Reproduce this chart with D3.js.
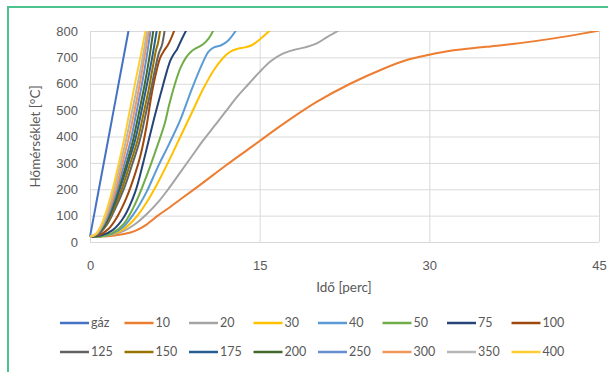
<!DOCTYPE html>
<html>
<head>
<meta charset="utf-8">
<script src="https://cdn.jsdelivr.net/npm/d3@7/dist/d3.min.js"></script>
<style>
  body { margin: 0; background: #fff; }
  svg { display: block; font-family: Lato, 'Liberation Sans', sans-serif; }
  .grid line { stroke: #d9d9d9; stroke-width: 1; }
  .grid path { display: none; }
  .axis path, .axis line { display: none; }
  .axis text { fill: #595959; font-size: 13px; }
  .title { fill: #595959; font-size: 13.5px; }
  .legend text { fill: #595959; font-size: 12.5px; }
</style>
</head>
<body>
<div id="chart"></div>
<script>
// series labels, in legend order
const labels = ['gáz', '10', '20', '30', '40', '50', '75', '100',
  '125', '150', '175', '200', '250', '300', '350', '400'];

// excel-ish palette
const colors = ['#4472c4', '#ed7d31', '#a5a5a5', '#ffc000', '#5b9bd5', '#70ad47', '#264478', '#9e480e',
  '#636363', '#997300', '#255e91', '#43682b', '#698ed0', '#f1975a', '#b7b7b7', '#ffcd33'];

const xTicks = [0, 15, 30, 45];
const yTicks = [0, 100, 200, 300, 400, 500, 600, 700, 800];

// [time (perc), temperature (°C)]
const sGaz = [[0, 20], [3.4, 800]];
const s10 = [[0, 20], [1, 21], [2, 24], [3, 30], [4, 42], [5, 66], [5.5, 83], [6, 100], [7, 130], [8, 162],
  [10, 225], [12, 290], [14, 352], [15, 383], [17, 445], [20, 530], [23, 600], [26, 658], [28, 690],
  [30, 710], [32, 726], [35, 740], [38, 754], [41, 772], [43.5, 790], [45, 802]];
const s20 = [[0, 20], [1, 22], [2, 28], [3, 42], [4, 68], [5, 105], [6, 150], [7, 205], [8, 265], [9, 325],
  [10, 385], [11, 440], [12, 495], [13, 550], [14, 598], [15, 645], [16, 686], [17, 713], [18, 728],
  [19, 738], [20, 752], [21, 778], [22, 802]];
const s30 = [[0, 20], [1, 22], [2, 30], [3, 50], [4, 90], [5, 150], [6, 225], [7, 310], [8, 400], [9, 490],
  [10, 580], [11, 655], [12, 708], [12.5, 724], [13, 732], [13.7, 738], [14.3, 746], [15, 768], [15.9, 802]];
const s40 = [[0, 20], [1, 22], [2, 32], [3, 60], [4, 115], [5, 190], [6, 285], [7, 372], [8, 465], [9, 580],
  [10, 683], [10.5, 723], [11, 739], [11.6, 746], [12.2, 763], [12.9, 802]];
const s50 = [[0, 20], [1, 22], [2, 35], [3, 70], [4, 145], [5, 250], [6, 370], [6.6, 448], [7, 520], [7.5, 598],
  [8, 660], [8.5, 700], [9, 724], [9.4, 735], [10, 750], [10.5, 772], [10.9, 802]];
const s75 = [[0, 20], [1, 25], [2, 45], [3, 95], [4, 190], [4.7, 300], [5.3, 405], [5.8, 490], [6.3, 570],
  [6.8, 648], [7.1, 688], [7.4, 712], [7.7, 731], [8.1, 768], [8.5, 802]];
const s100 = [[0, 20], [0.8, 26], [1.6, 48], [2.4, 95], [3.2, 165], [4, 260], [4.5, 335], [5, 440],
  [5.45, 560], [5.9, 652], [6.2, 698], [6.5, 722], [6.9, 748], [7.2, 775], [7.45, 802]];
const s125 = [[0, 20], [0.7, 29], [1.5, 66], [2.2, 124], [3, 202], [3.7, 290], [4.4, 385], [4.9, 480],
  [5.4, 580], [5.8, 665], [6.1, 718], [6.35, 745], [6.6, 802]];
const s150 = [[0, 20], [0.7, 30], [1.4, 65], [2.1, 125], [2.8, 200], [3.5, 290], [4.2, 385], [4.7, 480],
  [5.2, 580], [5.6, 675], [5.85, 730], [6, 752], [6.2, 802]];
const s175 = [[0, 20], [0.7, 31], [1.3, 64], [2, 126], [2.6, 197], [3.3, 290], [4, 388], [4.5, 485],
  [5, 590], [5.5, 700], [5.9, 802]];
const s200 = [[0, 20], [0.6, 29], [1.3, 66], [1.9, 125], [2.5, 198], [3.2, 293], [3.8, 385], [4.3, 485],
  [4.8, 590], [5.25, 700], [5.6, 802]];
const s250 = [[0, 20], [0.6, 30], [1.2, 65], [1.8, 125], [2.4, 200], [3, 290], [3.6, 385], [4.1, 490],
  [4.6, 600], [5, 700], [5.35, 802]];
const s300 = [[0, 20], [0.6, 31], [1.1, 64], [1.7, 125], [2.3, 203], [2.8, 287], [3.4, 390], [3.9, 490],
  [4.4, 600], [4.8, 700], [5.2, 802]];
const s350 = [[0, 20], [0.5, 29], [1.1, 67], [1.6, 126], [2.1, 197], [2.6, 281], [3.2, 389], [3.6, 470],
  [4.1, 575], [4.6, 685], [5.05, 802]];
const s400 = [[0, 20], [0.5, 30], [1, 65], [1.5, 125], [2, 200], [2.5, 290], [3, 385], [3.5, 495],
  [4, 605], [4.5, 710], [4.9, 802]];

const seriesData = [sGaz, s10, s20, s30, s40, s50, s75, s100,
  s125, s150, s175, s200, s250, s300, s350, s400];

const W = 608, H = 372;
const margin = { top: 31, right: 9, bottom: 130, left: 90 };
const width = W - margin.left - margin.right;
const height = H - margin.top - margin.bottom;

const svg = d3.select('#chart').append('svg')
  .attr('width', W)
  .attr('height', H);

// green frame of the page
svg.append('path')
  .attr('d', 'M8,372 V7 H608')
  .attr('fill', 'none')
  .attr('stroke', '#4cc28e')
  .attr('stroke-width', 2);

const x = d3.scaleLinear().domain([0, 45]).range([0, width]);
const y = d3.scaleLinear().domain([0, 800]).range([height, 0]);

const g = svg.append('g')
  .attr('transform', 'translate(' + margin.left + ',' + margin.top + ')');

g.append('defs').append('clipPath')
  .attr('id', 'clip')
  .append('rect')
  .attr('x', -2)
  .attr('y', 0)
  .attr('width', width + 4)
  .attr('height', height + 2);

// gridlines
g.append('g').attr('class', 'grid')
  .call(d3.axisLeft(y).tickValues(yTicks).tickSize(-width).tickFormat(''));
g.append('g').attr('class', 'grid')
  .attr('transform', 'translate(0,' + height + ')')
  .call(d3.axisBottom(x).tickValues(xTicks).tickSize(-height).tickFormat(''));

// axis labels
g.append('g').attr('class', 'axis')
  .call(d3.axisLeft(y).tickValues(yTicks).tickSize(0).tickPadding(12));
g.append('g').attr('class', 'axis')
  .attr('transform', 'translate(0,' + height + ')')
  .call(d3.axisBottom(x).tickValues(xTicks).tickSize(0).tickPadding(19));

const line = d3.line()
  .x(d => x(d[0]))
  .y(d => y(d[1]))
  .curve(d3.curveCatmullRom.alpha(0.5));

g.append('g')
  .attr('clip-path', 'url(#clip)')
  .selectAll('path')
  .data(seriesData)
  .join('path')
  .attr('fill', 'none')
  .attr('stroke', (d, i) => colors[i])
  .attr('stroke-width', 2)
  .attr('stroke-linejoin', 'round')
  .attr('d', line);

// titles
svg.append('text').attr('class', 'title')
  .attr('x', margin.left + width / 2 - 0.5)
  .attr('y', 292)
  .attr('text-anchor', 'middle')
  .text('Idő [perc]');
svg.append('text').attr('class', 'title')
  .attr('transform', 'translate(40,' + (margin.top + height / 2) + ') rotate(-90)')
  .attr('text-anchor', 'middle')
  .text('Hőmérséklet [°C]');

// legend, two rows of eight
const legend = svg.append('g').attr('class', 'legend');
const item = legend.selectAll('g')
  .data(labels)
  .join('g')
  .attr('transform', (d, i) => 'translate(' + (60 + (i % 8) * 64.5) + ',' + (323 + Math.floor(i / 8) * 29) + ')');
item.append('line')
  .attr('x1', 0).attr('x2', 29)
  .attr('stroke', (d, i) => colors[i])
  .attr('stroke-width', 2.5);
item.append('text')
  .attr('x', 31)
  .attr('dy', '0.35em')
  .text(d => d);
</script>
</body>
</html>
